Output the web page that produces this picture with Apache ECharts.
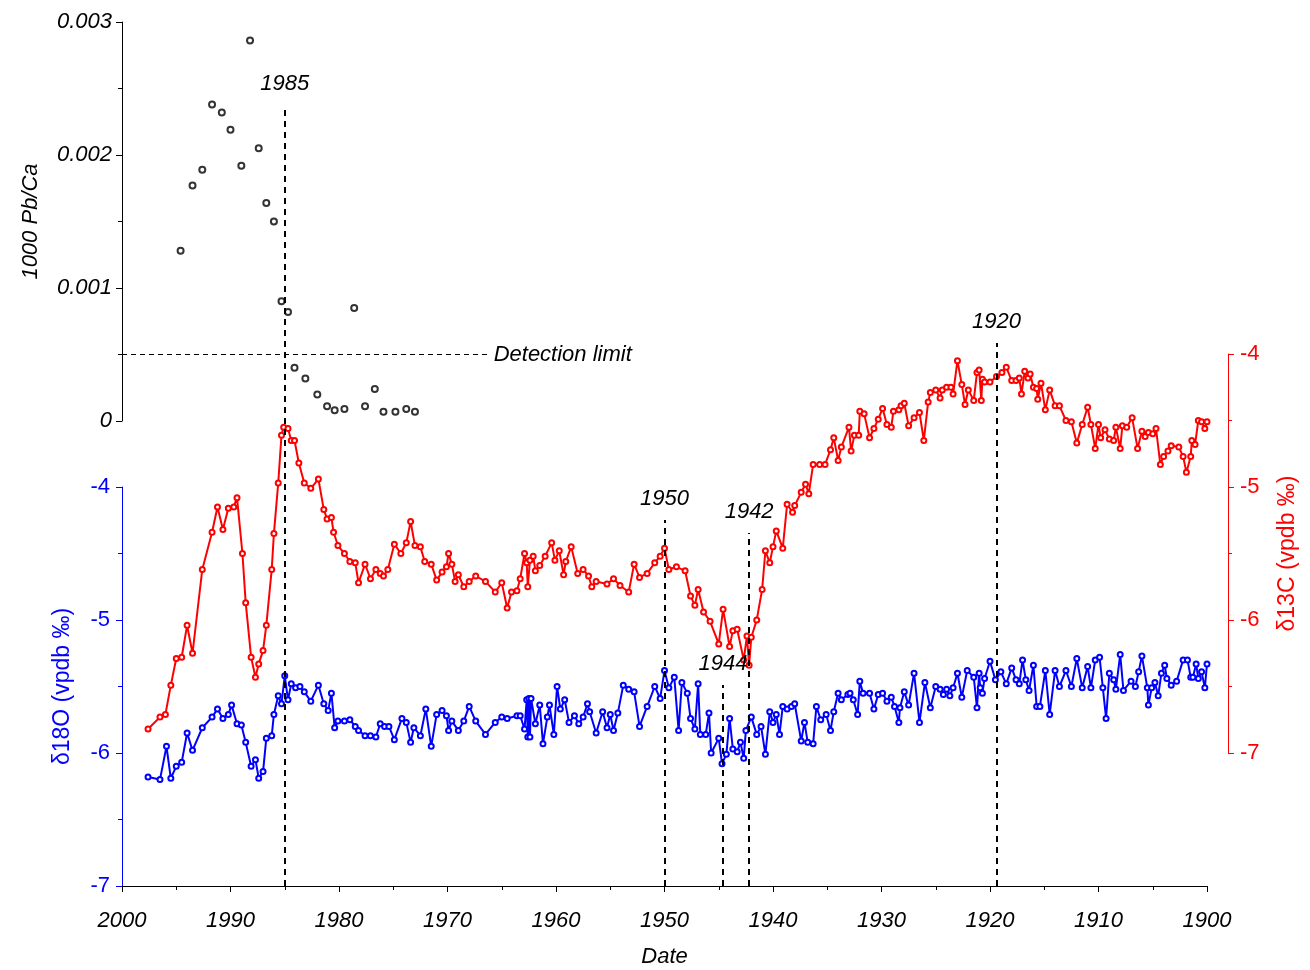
<!DOCTYPE html>
<html>
<head>
<meta charset="utf-8">
<script src="https://cdn.jsdelivr.net/npm/echarts@6/dist/echarts.min.js"></script>
<style>
  html, body { margin: 0; padding: 0; background: #fff; }
  #chart { width: 1310px; height: 970px; }
</style>
</head>
<body>
<div id="chart"></div>
<script>
// Pb/Ca (x1000)
var pbYears = [1994.6,1993.5,1992.6,1991.7,1990.8,1990.0,1989.0,1988.2,1987.4,1986.7,1986.0,1985.3,1984.7,1984.1,1983.1,1982.0,1981.1,1980.4,1979.5,1978.6,1977.6,1976.7,1975.9,1974.8,1973.8,1973.0];
var pbValues = [0.00128,0.00177,0.00189,0.00238,0.00232,0.00219,0.00192,0.00286,0.00205,0.00164,0.00150,0.00090,0.00082,0.00040,0.00032,0.00020,0.00011,0.00008,0.00009,0.00085,0.00011,0.00024,0.00007,0.00007,0.00009,0.00007];

// δ13C
var cYears = [1997.6,1996.5,1996.0,1995.5,1995.0,1994.5,1994.0,1993.5,1992.6,1991.7,1991.2,1990.7,1990.2,1989.7,1989.4,1988.9,1988.6,1988.1,1987.7,1987.4,1987.0,1986.7,1986.2,1986.0,1985.6,1985.3,1985.1,1984.7,1984.4,1984.1,1983.7,1983.2,1982.6,1981.9,1981.4,1981.1,1980.7,1980.5,1980.1,1979.5,1979.0,1978.5,1978.2,1977.6,1977.1,1976.6,1976.2,1975.9,1975.5,1974.9,1974.3,1973.8,1973.4,1973.0,1972.5,1972.1,1971.5,1971.0,1970.5,1970.1,1969.9,1969.6,1969.3,1969.0,1968.5,1968.0,1967.4,1966.5,1965.6,1965.0,1964.5,1964.1,1963.6,1963.3,1962.9,1962.7,1962.6,
  1962.4,1962.1,1961.9,1961.5,1961.0,1960.4,1960.1,1959.7,1959.3,1959.1,1958.6,1958.0,1957.5,1957.0,1956.7,1956.3,1955.3,1954.7,1954.1,1953.3,1952.8,1952.3,1951.6,1950.9,1950.4,1950.0,1949.6,1948.9,1948.1,1947.6,1947.2,1946.9,1946.4,1945.8,1945.0,1944.6,1944.0,1943.7,1943.3,1942.7,1942.4,1942.2,1942.0,1941.5,1941.0,1940.7,1940.3,1940.0,1939.7,1939.1,1938.7,1938.2,1938.0,1937.4,1937.0,1936.7,1936.3,1935.7,1935.2,1934.7,
  1934.4,1934.0,1933.7,1933.0,1932.8,1932.5,1932.1,1932.0,1931.6,1931.1,1930.7,1930.3,1929.9,1929.5,1929.1,1928.9,1928.4,1928.2,1927.9,1927.5,1927.0,1926.5,1926.1,1925.7,1925.5,1925.0,1924.6,1924.4,1924.0,1923.6,1923.4,1923.0,1922.6,1922.3,1922.0,1921.5,1921.2,1921.0,1920.8,1920.7,1920.5,1920.0,1919.4,1918.9,1918.5,1918.0,1917.6,1917.3,1917.1,1916.8,1916.5,1916.3,1916.0,1915.7,1915.6,1915.3,1914.9,1914.5,1914.0,1913.6,1913.0,1912.5,1912.0,1911.5,1911.0,1910.7,1910.3,1910.0,1909.8,1909.4,1909.0,1908.6,1908.4,1908.0,1907.8,1907.4,1906.9,1906.4,1906.0,1905.7,1905.4,1905.0,1904.7,1904.3,1904.0,1903.6,1903.3,1902.6,1902.2,1901.9,1901.5,1901.4,1901.1,1900.8,1900.5,1900.2,1900.0];
var cValues = [-6.82,-6.73,-6.71,-6.49,-6.29,-6.28,-6.04,-6.25,-5.62,-5.34,-5.15,-5.32,-5.16,-5.15,-5.08,-5.50,-5.87,-6.28,-6.43,-6.33,-6.23,-6.04,-5.62,-5.35,-4.97,-4.61,-4.55,-4.56,-4.65,-4.65,-4.82,-4.97,-5.01,-4.94,-5.17,-5.24,-5.23,-5.34,-5.44,-5.50,-5.56,-5.57,-5.72,-5.58,-5.69,-5.62,-5.65,-5.67,-5.62,-5.43,-5.50,-5.42,-5.26,-5.44,-5.45,-5.56,-5.58,-5.70,-5.64,-5.60,-5.50,-5.58,-5.71,-5.66,-5.75,-5.71,-5.67,-5.71,-5.79,-5.72,-5.91,-5.79,-5.78,-5.69,-5.50,-5.57,-5.75,
  -5.55,-5.52,-5.63,-5.59,-5.52,-5.42,-5.55,-5.48,-5.66,-5.56,-5.45,-5.65,-5.62,-5.67,-5.75,-5.71,-5.73,-5.69,-5.74,-5.79,-5.58,-5.68,-5.65,-5.57,-5.52,-5.46,-5.62,-5.60,-5.63,-5.82,-5.89,-5.77,-5.94,-6.01,-6.18,-5.92,-6.20,-6.08,-6.07,-6.30,-6.12,-6.34,-6.13,-6.00,-5.77,-5.48,-5.57,-5.45,-5.33,-5.46,-5.13,-5.19,-5.14,-5.04,-4.98,-5.05,-4.83,-4.83,-4.83,-4.72,
  -4.63,-4.80,-4.70,-4.55,-4.73,-4.61,-4.61,-4.43,-4.45,-4.63,-4.56,-4.49,-4.41,-4.53,-4.55,-4.43,-4.42,-4.39,-4.37,-4.54,-4.48,-4.44,-4.65,-4.36,-4.29,-4.27,-4.33,-4.27,-4.25,-4.25,-4.30,-4.05,-4.23,-4.38,-4.27,-4.35,-4.14,-4.12,-4.35,-4.19,-4.21,-4.21,-4.17,-4.14,-4.10,-4.20,-4.20,-4.18,-4.30,-4.13,-4.18,-4.15,-4.25,-4.26,-4.34,-4.22,-4.42,-4.27,-4.39,-4.39,-4.50,-4.51,-4.67,-4.53,-4.40,-4.53,-4.71,-4.53,-4.63,-4.57,-4.64,-4.65,-4.55,-4.71,-4.54,-4.55,-4.48,-4.71,-4.58,-4.62,-4.59,-4.60,-4.56,-4.83,-4.77,-4.73,-4.69,-4.70,-4.77,-4.89,-4.77,-4.65,-4.68,-4.50,-4.51,-4.56,-4.51];

// δ18O
var oYears = [1997.6,1996.5,1995.9,1995.5,1995.0,1994.5,1994.0,1993.5,1992.6,1991.7,1991.2,1990.7,1990.2,1989.9,1989.4,1989.0,1988.6,1988.1,1987.7,1987.4,1987.0,1986.7,1986.2,1986.0,1985.6,1985.3,1985.0,1984.7,1984.4,1984.0,1983.6,1983.2,1982.6,1981.9,1981.4,1981.0,1980.7,1980.4,1980.1,1979.5,1979.0,1978.5,1978.2,1977.6,1977.1,1976.6,1976.2,1975.8,1975.4,1974.9,1974.2,1973.8,1973.4,1973.1,1972.5,1972.0,1971.5,1971.0,1970.5,1970.1,1969.9,1969.6,1969.0,1968.5,1968.0,1967.4,1966.5,1965.6,1965.0,1964.5,1963.6,1963.3,1962.9,1962.7,1962.6,
  1962.5,1962.4,1962.3,1961.9,1961.5,1961.2,1960.8,1960.6,1960.2,1959.9,1959.6,1959.2,1958.8,1958.3,1957.9,1957.5,1957.1,1956.9,1956.3,1955.7,1955.3,1955.0,1954.7,1954.3,1953.8,1953.3,1952.8,1952.3,1951.6,1950.9,1950.4,1950.0,1949.6,1949.1,1948.7,1948.4,1947.9,1947.6,1947.2,1946.9,1946.7,1946.2,1945.9,1945.7,1945.0,1944.7,1944.3,1944.0,1943.7,1943.3,1943.0,1942.7,1942.5,1942.0,1941.5,1941.1,1940.7,1940.3,1940.0,1939.7,1939.4,1939.1,1938.7,1938.3,1938.0,1937.4,1937.1,1936.8,1936.3,1936.0,1935.6,1935.1,1934.7,1934.4,1934.0,1933.7,1933.1,
  1932.9,1932.6,1932.2,1932.0,1931.7,1931.1,1930.7,1930.3,1929.9,1929.5,1929.1,1928.8,1928.4,1928.3,1927.9,1927.5,1927.0,1926.5,1926.0,1925.5,1925.0,1924.6,1924.3,1924.0,1923.7,1923.4,1923.0,1922.6,1922.1,1921.5,1921.2,1921.0,1920.9,1920.7,1920.5,1920.0,1919.5,1919.0,1918.5,1918.0,1917.6,1917.3,1917.0,1916.7,1916.4,1916.0,1915.7,1915.4,1914.9,1914.5,1914.0,1913.6,1913.0,1912.5,1912.0,1911.5,1911.0,1910.7,1910.3,1909.9,1909.6,1909.3,1909.0,1908.6,1908.4,1908.0,1907.7,1907.0,1906.6,1906.3,1906.0,1905.5,1905.4,1905.1,1904.8,1904.5,1904.2,1903.9,1903.7,1903.3,1902.8,1902.2,1901.8,1901.5,1901.3,1901.0,1900.8,1900.5,1900.2,1900.0];
var oValues = [-6.18,-6.20,-5.95,-6.19,-6.10,-6.07,-5.85,-5.98,-5.81,-5.73,-5.67,-5.74,-5.71,-5.64,-5.78,-5.79,-5.92,-6.10,-6.05,-6.19,-6.14,-5.89,-5.87,-5.71,-5.57,-5.63,-5.42,-5.60,-5.48,-5.51,-5.50,-5.54,-5.61,-5.49,-5.63,-5.68,-5.55,-5.81,-5.76,-5.76,-5.75,-5.80,-5.83,-5.87,-5.87,-5.88,-5.78,-5.80,-5.80,-5.90,-5.74,-5.77,-5.92,-5.81,-5.87,-5.67,-5.95,-5.71,-5.68,-5.72,-5.83,-5.76,-5.83,-5.76,-5.65,-5.76,-5.86,-5.77,-5.73,-5.74,-5.72,-5.72,-5.82,-5.60,-5.88,
  -5.59,-5.88,-5.59,-5.78,-5.64,-5.93,-5.73,-5.64,-5.86,-5.50,-5.67,-5.60,-5.77,-5.72,-5.78,-5.73,-5.63,-5.69,-5.85,-5.69,-5.81,-5.71,-5.83,-5.70,-5.49,-5.52,-5.54,-5.80,-5.65,-5.50,-5.59,-5.38,-5.51,-5.43,-5.83,-5.47,-5.55,-5.74,-5.82,-5.48,-5.86,-5.86,-5.70,-6.00,-5.89,-6.08,-6.01,-5.74,-5.97,-5.99,-5.92,-6.04,-5.83,-5.73,-5.86,-5.80,-6.01,-5.69,-5.77,-5.71,-5.86,-5.65,-5.67,-5.65,-5.63,-5.91,-5.77,-5.92,-5.93,-5.65,-5.75,-5.71,-5.83,-5.69,-5.55,-5.60,-5.56,
  -5.55,-5.60,-5.71,-5.46,-5.55,-5.55,-5.67,-5.56,-5.55,-5.61,-5.58,-5.65,-5.77,-5.66,-5.54,-5.64,-5.40,-5.77,-5.47,-5.66,-5.50,-5.52,-5.56,-5.52,-5.57,-5.51,-5.40,-5.58,-5.38,-5.43,-5.66,-5.40,-5.51,-5.55,-5.44,-5.31,-5.45,-5.39,-5.48,-5.36,-5.45,-5.48,-5.30,-5.45,-5.53,-5.34,-5.65,-5.65,-5.38,-5.71,-5.38,-5.50,-5.38,-5.50,-5.29,-5.51,-5.35,-5.51,-5.30,-5.28,-5.51,-5.74,-5.40,-5.45,-5.52,-5.26,-5.53,-5.46,-5.50,-5.39,-5.27,-5.51,-5.64,-5.51,-5.47,-5.57,-5.40,-5.34,-5.44,-5.49,-5.46,-5.30,-5.30,-5.43,-5.43,-5.33,-5.44,-5.39,-5.51,-5.33];

// guide lines: year position, label, and height above the date axis (0-864 overlay scale)
var guideYears = [1985.0, 1950.0, 1944.6, 1942.2, 1919.4];
var guideLabels = ['1985', '1950', '1944', '1942', '1920'];
var guideTops = [781, 366, 201, 353, 543];
var detectionLimit = 0.0005;

function pairs(xs, ys) {
  return xs.map(function (x, i) { return [x, ys[i]]; });
}

var FONT = "'Liberation Sans Narrow', 'Liberation Sans', Arial, sans-serif";
var lab = function (color) {
  return { color: color, fontSize: 22, fontStyle: 'italic', fontFamily: FONT };
};

var myChart = echarts.init(document.getElementById('chart'));

var xBase = { type: 'value', min: 1900, max: 2000, interval: 10, inverse: true, splitLine: { show: false } };

var guideData = guideYears.map(function (y, i) {
  return [{ coord: [y, 0] }, { coord: [y, guideTops[i]], label: { formatter: guideLabels[i] } }];
});

var option = {
  animation: false,
  backgroundColor: '#fff',
  grid: [
    { left: 122, right: 103, top: 22, height: 399 },
    { left: 122, right: 103, top: 487, height: 399 },
    { left: 122, right: 103, top: 354, height: 399 },
    { left: 122, right: 103, top: 22, height: 864 }
  ],
  xAxis: [
    Object.assign({}, xBase, { gridIndex: 0, show: false }),
    Object.assign({}, xBase, {
      gridIndex: 1,
      name: 'Date', nameLocation: 'middle', nameGap: 60,
      nameTextStyle: lab('#000'),
      axisLine: { lineStyle: { color: '#000', width: 1 } },
      axisTick: { lineStyle: { color: '#000' }, length: 6 },
      minorTick: { show: true, splitNumber: 2, length: 4, lineStyle: { color: '#000' } },
      axisLabel: Object.assign(lab('#000'), { margin: 24, formatter: function (v) { return String(v); } })
    }),
    Object.assign({}, xBase, { gridIndex: 2, show: false }),
    Object.assign({}, xBase, { gridIndex: 3, show: false })
  ],
  yAxis: [
    {
      type: 'value', gridIndex: 0, min: 0, max: 0.003, interval: 0.001,
      name: '1000 Pb/Ca', nameLocation: 'middle', nameGap: 80, nameRotate: 90,
      nameTextStyle: lab('#000'),
      splitLine: { show: false },
      axisLine: { show: true, lineStyle: { color: '#000', width: 1 } },
      axisTick: { show: true, length: 6, lineStyle: { color: '#000' } },
      minorTick: { show: true, splitNumber: 2, length: 4, lineStyle: { color: '#000' } },
      axisLabel: Object.assign(lab('#000'), {
        margin: 10,
        formatter: function (v) { return v === 0 ? '0' : v.toFixed(3); }
      })
    },
    {
      type: 'value', gridIndex: 1, min: -7, max: -4, interval: 1,
      name: 'δ18O (vpdb ‰)', nameLocation: 'middle', nameGap: 48, nameRotate: 90,
      nameTextStyle: { color: '#0000ff', fontSize: 23, fontFamily: FONT },
      splitLine: { show: false },
      axisLine: { show: true, lineStyle: { color: '#0000ff', width: 1 } },
      axisTick: { show: true, length: 6, lineStyle: { color: '#0000ff' } },
      minorTick: { show: true, splitNumber: 2, length: 4, lineStyle: { color: '#0000ff' } },
      axisLabel: Object.assign(lab('#0000ff'), { fontStyle: 'normal', margin: 12 })
    },
    {
      type: 'value', gridIndex: 2, min: -7, max: -4, interval: 1, position: 'right', offset: 21,
      name: 'δ13C (vpdb ‰)', nameLocation: 'middle', nameGap: 48, nameRotate: 90,
      nameTextStyle: { color: '#ff0000', fontSize: 23, fontFamily: FONT },
      splitLine: { show: false },
      axisLine: { show: true, lineStyle: { color: '#ff0000', width: 1 } },
      axisTick: { show: true, length: 6, lineStyle: { color: '#ff0000' } },
      minorTick: { show: true, splitNumber: 2, length: 4, lineStyle: { color: '#ff0000' } },
      axisLabel: Object.assign(lab('#ff0000'), { fontStyle: 'normal', margin: 12 })
    },
    { type: 'value', gridIndex: 3, min: 0, max: 864, show: false, splitLine: { show: false } }
  ],
  series: [
    {
      name: 'Pb/Ca', type: 'scatter', xAxisIndex: 0, yAxisIndex: 0,
      data: pairs(pbYears, pbValues),
      symbol: 'emptyCircle', symbolSize: 6,
      itemStyle: { color: '#000', borderColor: '#000', borderWidth: 1 },
      markLine: {
        silent: true, symbol: 'none',
        lineStyle: { color: '#000', type: [5, 4], width: 1 },
        label: Object.assign(lab('#000'), { position: 'end', distance: 6 }),
        data: [[{ coord: [2000, detectionLimit] }, { coord: [1966.3, detectionLimit], label: { formatter: 'Detection limit' } }]]
      }
    },
    {
      name: 'd13C', type: 'line', xAxisIndex: 2, yAxisIndex: 2,
      data: pairs(cYears, cValues),
      symbol: 'emptyCircle', symbolSize: 5,
      lineStyle: { color: '#ff0000', width: 2 },
      itemStyle: { color: '#ff0000', borderColor: '#ff0000', borderWidth: 1 }
    },
    {
      name: 'd18O', type: 'line', xAxisIndex: 1, yAxisIndex: 1,
      data: pairs(oYears, oValues),
      symbol: 'emptyCircle', symbolSize: 5,
      lineStyle: { color: '#0000ff', width: 2 },
      itemStyle: { color: '#0000ff', borderColor: '#0000ff', borderWidth: 1 }
    },
    {
      name: 'guides', type: 'line', xAxisIndex: 3, yAxisIndex: 3, clip: false,
      data: [[1900, 0]], symbol: 'none', lineStyle: { opacity: 0 },
      markLine: {
        silent: true, symbol: 'none',
        lineStyle: { color: '#000', type: [6, 5], width: 2 },
        label: Object.assign(lab('#000'), { position: 'end', distance: 10 }),
        data: guideData
      }
    }
  ]
};

myChart.setOption(option);
</script>
</body>
</html>
